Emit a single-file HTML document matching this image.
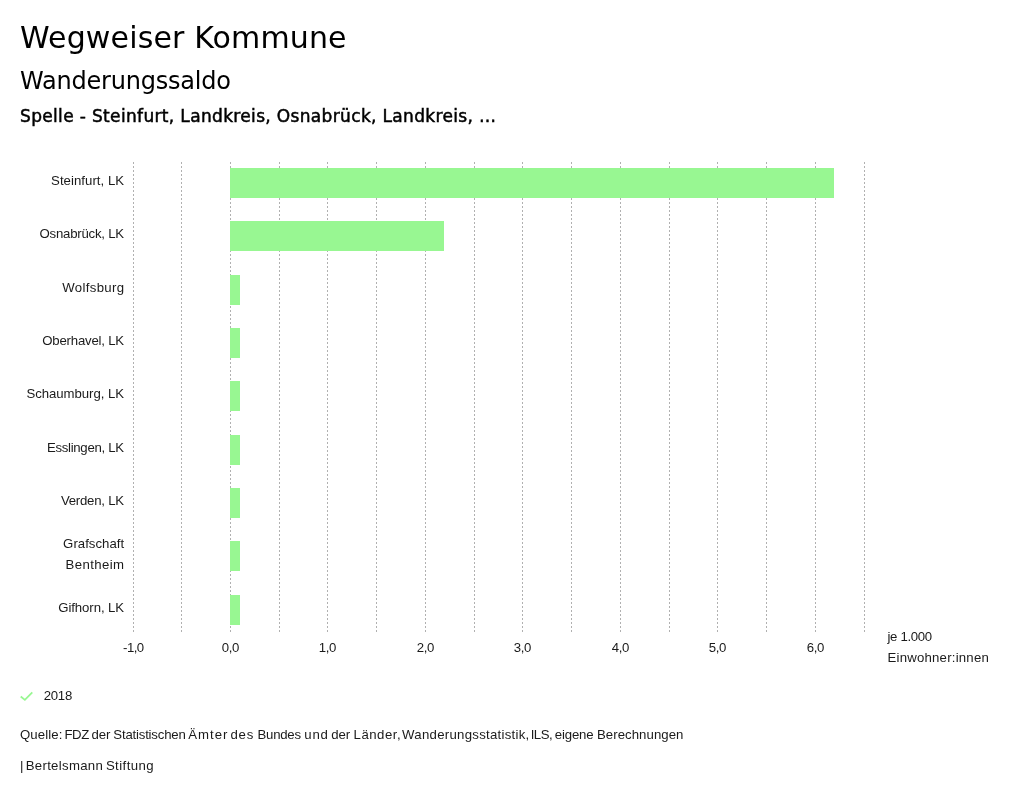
<!DOCTYPE html>
<html lang="de">
<head>
<meta charset="utf-8">
<title>Wegweiser Kommune - Wanderungssaldo</title>
<style>
html,body{margin:0;padding:0;background:#fff;}
body{width:1024px;height:798px;position:relative;overflow:hidden;color:#000;
  font-family:"Liberation Sans",sans-serif;}
#page{position:absolute;left:0;top:0;width:1024px;height:798px;will-change:transform;}
h1,h2,h3{margin:0;padding:0;font-weight:normal;position:absolute;left:20px;white-space:nowrap;}
h1{font-family:"DejaVu Sans",sans-serif;font-size:30px;line-height:36px;top:20px;letter-spacing:0.15px;}
h2{font-family:"DejaVu Sans",sans-serif;font-size:24px;line-height:28px;top:67px;letter-spacing:-0.22px;}
h3{font-family:"DejaVu Sans",sans-serif;font-size:17px;line-height:22px;top:105px;letter-spacing:0.34px;-webkit-text-stroke:0.5px #000;}
svg{position:absolute;left:0;top:0;}
svg text{font-family:"Liberation Sans",sans-serif;fill:#1a1a1a;}
.g{stroke:#b0b0b0;stroke-width:1;stroke-dasharray:2 2;shape-rendering:crispEdges;}
.b{fill:#98f792;shape-rendering:crispEdges;}
.l{font-size:13.2px;text-anchor:end;}
.t{font-size:13.2px;text-anchor:middle;}
.u{font-size:13.2px;text-anchor:start;}
.f{font-size:13.2px;text-anchor:start;}
.ck{fill:none;stroke:#98f792;stroke-width:1.8;}
</style>
</head>
<body>
<div id="page">
<h1>Wegweiser Kommune</h1>
<h2>Wanderungssaldo</h2>
<h3>Spelle - Steinfurt, Landkreis, Osnabrück, Landkreis, …</h3>
<svg width="1024" height="798" viewBox="0 0 1024 798" xmlns="http://www.w3.org/2000/svg">
<line class="g" x1="133.5" y1="162" x2="133.5" y2="632"/>
<line class="g" x1="181.5" y1="162" x2="181.5" y2="632"/>
<line class="g" x1="230.5" y1="162" x2="230.5" y2="632"/>
<line class="g" x1="279.5" y1="162" x2="279.5" y2="632"/>
<line class="g" x1="327.5" y1="162" x2="327.5" y2="632"/>
<line class="g" x1="376.5" y1="162" x2="376.5" y2="632"/>
<line class="g" x1="425.5" y1="162" x2="425.5" y2="632"/>
<line class="g" x1="474.5" y1="162" x2="474.5" y2="632"/>
<line class="g" x1="522.5" y1="162" x2="522.5" y2="632"/>
<line class="g" x1="571.5" y1="162" x2="571.5" y2="632"/>
<line class="g" x1="620.5" y1="162" x2="620.5" y2="632"/>
<line class="g" x1="669.5" y1="162" x2="669.5" y2="632"/>
<line class="g" x1="717.5" y1="162" x2="717.5" y2="632"/>
<line class="g" x1="766.5" y1="162" x2="766.5" y2="632"/>
<line class="g" x1="815.5" y1="162" x2="815.5" y2="632"/>
<line class="g" x1="864.5" y1="162" x2="864.5" y2="632"/>
<rect class="b" x="230" y="168" width="604" height="30"/>
<text class="l" x="124.1" y="185.00" textLength="73.0" lengthAdjust="spacing">Steinfurt, LK</text>
<rect class="b" x="230" y="221" width="214" height="30"/>
<text class="l" x="124.1" y="238.35" textLength="84.6" lengthAdjust="spacing">Osnabrück, LK</text>
<rect class="b" x="230" y="275" width="10" height="30"/>
<text class="l" x="124.1" y="291.70" textLength="61.8" lengthAdjust="spacing">Wolfsburg</text>
<rect class="b" x="230" y="328" width="10" height="30"/>
<text class="l" x="124.1" y="345.05" textLength="81.8" lengthAdjust="spacing">Oberhavel, LK</text>
<rect class="b" x="230" y="381" width="10" height="30"/>
<text class="l" x="124.1" y="398.40" textLength="97.7" lengthAdjust="spacing">Schaumburg, LK</text>
<rect class="b" x="230" y="435" width="10" height="30"/>
<text class="l" x="124.1" y="451.75" textLength="77.2" lengthAdjust="spacing">Esslingen, LK</text>
<rect class="b" x="230" y="488" width="10" height="30"/>
<text class="l" x="124.1" y="505.10" textLength="63.2" lengthAdjust="spacing">Verden, LK</text>
<rect class="b" x="230" y="541" width="10" height="30"/>
<text class="l" x="124.1" y="547.95" textLength="61.0" lengthAdjust="spacing">Grafschaft</text>
<text class="l" x="124.1" y="569.15" textLength="58.5" lengthAdjust="spacing">Bentheim</text>
<rect class="b" x="230" y="595" width="10" height="30"/>
<text class="l" x="124.1" y="611.80" textLength="65.9" lengthAdjust="spacing">Gifhorn, LK</text>
<text class="t" x="133.60" y="651.8" textLength="21.1" lengthAdjust="spacing">-1,0</text>
<text class="t" x="230.60" y="651.8" textLength="17.7" lengthAdjust="spacing">0,0</text>
<text class="t" x="327.60" y="651.8" textLength="17.7" lengthAdjust="spacing">1,0</text>
<text class="t" x="425.60" y="651.8" textLength="17.7" lengthAdjust="spacing">2,0</text>
<text class="t" x="522.60" y="651.8" textLength="17.7" lengthAdjust="spacing">3,0</text>
<text class="t" x="620.60" y="651.8" textLength="17.7" lengthAdjust="spacing">4,0</text>
<text class="t" x="717.60" y="651.8" textLength="17.7" lengthAdjust="spacing">5,0</text>
<text class="t" x="815.60" y="651.8" textLength="17.7" lengthAdjust="spacing">6,0</text>
<text class="u" x="887.5" y="641" textLength="44.6" lengthAdjust="spacing">je 1.000</text>
<text class="u" x="887.5" y="662" textLength="101.3" lengthAdjust="spacing">Einwohner:innen</text>
<text class="f" y="739.2"><tspan x="20.0" textLength="42.3" lengthAdjust="spacing">Quelle:</tspan> <tspan x="64.5" textLength="24.7" lengthAdjust="spacing">FDZ</tspan> <tspan x="91.5" textLength="18.8" lengthAdjust="spacing">der</tspan> <tspan x="113.3" textLength="72.5" lengthAdjust="spacing">Statistischen</tspan> <tspan x="188.3" textLength="39.2" lengthAdjust="spacing">Ämter</tspan> <tspan x="230.4" textLength="22.9" lengthAdjust="spacing">des</tspan> <tspan x="257.5" textLength="43.5" lengthAdjust="spacing">Bundes</tspan> <tspan x="304.3" textLength="23.6" lengthAdjust="spacing">und</tspan> <tspan x="331.3" textLength="18.9" lengthAdjust="spacing">der</tspan> <tspan x="353.6" textLength="47.0" lengthAdjust="spacing">Länder,</tspan> <tspan x="402.1" textLength="127.1" lengthAdjust="spacing">Wanderungsstatistik,</tspan> <tspan x="530.7" textLength="21.9" lengthAdjust="spacing">ILS,</tspan> <tspan x="554.8" textLength="38.8" lengthAdjust="spacing">eigene</tspan> <tspan x="597.0" textLength="86.4" lengthAdjust="spacing">Berechnungen</tspan></text>
<text class="f" y="769.9"><tspan x="19.9" textLength="2.5" lengthAdjust="spacing">|</tspan> <tspan x="25.7" textLength="77.1" lengthAdjust="spacing">Bertelsmann</tspan> <tspan x="105.9" textLength="47.7" lengthAdjust="spacing">Stiftung</tspan></text>
<path class="ck" d="M20.7 696.5 L24.9 699.9 L32.3 692.4"/>
<text class="f" x="43.7" y="699.9" textLength="28.6" lengthAdjust="spacing">2018</text>
</svg>
</div>
</body>
</html>
